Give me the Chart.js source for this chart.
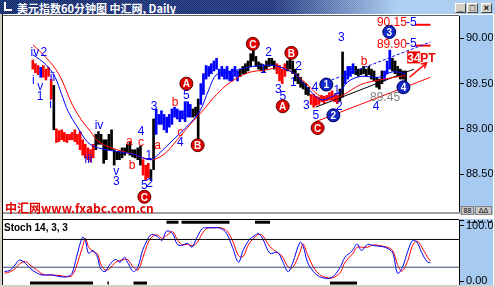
<!DOCTYPE html>
<html lang="zh-CN">
<head>
<meta charset="UTF-8" />
<title>美元指数60分钟图 中汇网, Daily</title>
<style>
  body {
    margin: 0;
    width: 495px;
    height: 287px;
    overflow: hidden;
    position: relative;
    background: #d4d0c8;
    font-family: Arial, "Liberation Sans", sans-serif;
  }
  #titulo {
    position: absolute; left: 0; top: 0; width: 495px; height: 14px;
    background:
      repeating-conic-gradient(rgba(255,255,255,.16) 0 25%, transparent 0 50%) 0 0 / 2px 2px,
      linear-gradient(90deg, #0a246a 0, #1a307a 55%, #a6caf0 80%, #a6caf0 100%);
  }
  #titulo span {
    position: absolute; left: 17px; top: 0; line-height: 14px;
    color: #fff; font: bold 11px "Noto Sans CJK SC", Arial, sans-serif;
  }
  #icone { position: absolute; left: 4px; top: 2px; width: 8px; height: 9px; border-left: 2px solid #fff; border-bottom: 2px solid #fff; box-sizing: border-box; }
  .btn {
    position: absolute; top: 3px; width: 11px; height: 10px; background: #d4d0c8;
    border: 1px solid; border-color: #fff #404040 #404040 #fff; box-sizing: border-box;
    font: bold 9px Arial; line-height: 8px; text-align: center; color: #000;
  }
  #painel { position: absolute; left: 2px; top: 14px; width: 491px; height: 271px; background: #fff; border-left: 1px solid #000; }
  #eixo1 { position: absolute; left: 459px; top: 15px; width: 34px; height: 197px; background: #a6caf0; }
  #eixo2 { position: absolute; left: 459px; top: 219px; width: 34px; height: 66px; background: #a6caf0; }
  #sep { position: absolute; left: 3px; top: 212px; width: 490px; height: 2px; background: #a0a0a0; }
  #topo2 { position: absolute; left: 3px; top: 219px; width: 456px; height: 1px; background: #000; }
  #topo1 { position: absolute; left: 3px; top: 15px; width: 456px; height: 1px; background: #606060; }
  canvas { position: absolute; }
  #grafico { left: 3px; top: 16px; }
  #graficoStoch { left: 3px; top: 220px; }
  #marca {
    position: absolute; left: 5px; top: 202px; color: #e00000;
    font: bold 12px "Noto Sans CJK SC", Arial, sans-serif; line-height: 12px;
  }
  #stochNome { position: absolute; left: 4px; top: 222px; font: bold 10px Arial, sans-serif; color: #000; }
  .mini { position: absolute; top: 206px; height: 9px; background: #c8c8c8; border: 1px solid #808080; box-sizing: border-box; font: 7px Arial; line-height: 7px; text-align: center; }
</style>
</head>
<body>
  <div id="titulo"><div id="icone"></div><span>美元指数60分钟图 中汇网, Daily</span></div>
  <div class="btn" style="left:455px">_</div>
  <div class="btn" style="left:467px">□</div>
  <div class="btn" style="left:481px">×</div>
  <div id="painel"></div>
  <div id="eixo1"></div>
  <div id="eixo2"></div>
  <div id="topo1"></div>
  <div id="sep"></div>
  <div id="topo2"></div>
  <canvas id="grafico" width="490" height="196"></canvas>
  <canvas id="graficoStoch" width="490" height="65"></canvas>
  <div id="marca">中汇网www.fxabc.com.cn</div>
  <div id="stochNome">Stoch 14, 3, 3</div>
  <div class="mini" style="left:461px;width:13px">88</div>
  <div class="mini" style="left:475px;width:17px">ΔΔ</div>

  <script src="https://cdn.jsdelivr.net/npm/chart.js"></script>
  <script>
    // ---- dados ----
    const NUM_SLOTS = 152;
    const maximas = [89.76,89.72,89.70,89.68,89.70,89.66,89.68,89.55,89.48,89.00,
      88.98,88.99,88.96,88.94,88.94,88.96,88.99,88.94,88.97,88.88,
      88.83,88.79,88.77,88.83,88.94,88.97,88.94,88.88,88.88,88.94,
      88.99,88.77,88.75,88.75,88.79,88.79,88.83,88.85,88.77,88.77,
      88.79,88.81,88.66,88.60,88.62,88.55,89.11,89.22,89.16,89.20,
      89.16,89.13,89.16,89.22,89.24,89.22,89.20,89.20,89.30,89.30,
      89.27,89.22,89.24,89.33,89.50,89.61,89.70,89.69,89.72,89.75,
      89.78,89.66,89.69,89.66,89.69,89.64,89.66,89.69,89.64,89.66,
      89.69,89.72,89.75,89.83,89.89,89.80,89.74,89.72,89.70,89.75,
      89.78,89.78,89.75,89.72,89.70,89.66,89.72,89.75,89.80,89.75,
      89.66,89.61,89.57,89.52,89.50,89.46,89.38,89.38,89.36,89.35,
      89.37,89.36,89.37,89.40,89.42,89.38,89.37,89.44,89.85,89.64,
      89.69,89.69,89.72,89.69,89.66,89.66,89.69,89.66,89.69,89.66,
      89.64,89.57,89.55,89.64,89.64,89.75,89.87,89.78,89.75,89.69,
      89.66,89.64,89.64];
    const minimas = [89.66,89.62,89.60,89.57,89.57,89.54,89.58,89.33,88.99,88.85,
      88.86,88.88,88.86,88.85,88.88,88.88,88.86,88.83,88.77,88.71,
      88.68,88.66,88.64,88.68,88.77,88.83,88.83,88.62,88.66,88.77,
      88.77,88.60,88.66,88.66,88.68,88.71,88.74,88.71,88.69,88.68,
      88.66,88.60,88.49,88.43,88.46,88.43,88.55,88.94,89.05,89.05,
      88.99,88.96,89.02,89.05,89.13,89.11,89.08,89.11,89.08,89.13,
      89.13,89.13,89.14,88.88,89.27,89.38,89.55,89.58,89.61,89.64,
      89.66,89.55,89.58,89.55,89.55,89.53,89.53,89.58,89.53,89.58,
      89.61,89.61,89.64,89.69,89.75,89.69,89.66,89.64,89.63,89.66,
      89.69,89.70,89.66,89.61,89.53,89.50,89.58,89.64,89.66,89.61,
      89.53,89.50,89.46,89.44,89.38,89.37,89.27,89.24,89.26,89.27,
      89.30,89.28,89.31,89.32,89.32,89.30,89.28,89.31,89.35,89.50,
      89.55,89.58,89.61,89.60,89.58,89.60,89.61,89.58,89.60,89.55,
      89.53,89.46,89.44,89.50,89.53,89.61,89.66,89.64,89.61,89.58,
      89.55,89.55,89.53];

    // médias móveis (índice da barra, preço)
    const mediaAzulX = [0,5,8.5,11,13.5,17,21,25,32,38.5,45,48.5,53.5,58.5,63.5,67,70,75,82,87,92,97,100,103.5,107,110,113.5,117,120,125,132,137,142];
    const mediaAzul = [89.82,89.71,89.57,89.38,89.19,89.02,88.85,88.79,88.75,88.72,88.66,88.74,88.88,89.02,89.19,89.43,89.60,89.63,89.68,89.70,89.70,89.65,89.60,89.49,89.38,89.32,89.35,89.41,89.52,89.58,89.57,89.63,89.61];
    const mediaVermX = [0,5,10,15,18.5,22,25,32,38.5,45,50,55,60,65,70,75,82,88.5,95,98.5,103.5,108.5,113.5,118.5,125,132,142];
    const mediaVerm = [89.93,89.79,89.60,89.27,89.10,88.97,88.86,88.77,88.72,88.66,88.72,88.88,89.05,89.21,89.38,89.51,89.62,89.65,89.68,89.63,89.52,89.38,89.32,89.38,89.49,89.54,89.59];

    // linhas de tendência (índice, preço)
    const canalAzul = [[112, 89.52], [151.5, 89.96]];
    const canalVerm = [[107.8, 89.08], [151.5, 89.57]];
    const canalPreto = [[107.8, 89.24], [145.2, 89.66]];
    const alvo1 = [[145.5, 90.15], [151.5, 90.15]];
    const alvo2 = [[145.5, 89.92], [151.5, 89.92]];
    const seta = [[143.5, 89.57], [150, 89.73]];
    const precoTicks = [88.5, 89.0, 89.5, 90.0];

    // estocástico
    const stochX = [0,2,3.5,5,7,8.5,11,12.5,14,16,18.5,21,22.5,24,26,27,28,29.5,31,32,33.5,35,37,38.5,40,41,43,44.5,46,47.5,49,51,52.5,54,56,57.5,59,61,62.5,64,66,67.5,69.5,72,74,76,78,79.5,81,82,83.5,84.5,86,88.5,91,92.5,94.5,96,98.5,99.5,101,103,105,107.5,109.5,112,113.5,116,117.5,119,121,123,126,128,129.5,131,132.5,134.5,136,137.5,139,141,142];
    const stochK = [17,20,29,38,32,23,14,11,11,11,8,8,14,43,79,73,50,55,43,23,17,29,39,34,43,34,17,26,55,73,84,80,73,90,86,67,64,68,61,77,95,96,96,95,86,61,34,55,70,77,82,86,77,50,52,38,17,32,70,64,34,17,8,5,8,26,43,55,67,55,66,64,62,58,50,14,23,55,73,70,52,34,34];
    const stochD = [14,17,22,31,35,29,19,13,11,11,10,8,10,27,62,77,62,53,49,32,20,22,34,37,39,39,25,20,40,64,79,83,77,82,89,76,66,66,64,68,86,95,96,96,91,73,46,44,62,71,79,84,82,62,51,45,26,24,52,67,48,25,12,6,6,16,34,49,61,61,61,65,63,60,54,30,18,38,64,72,62,43,36];
    const stochNiveis = [75, 25];
    const sobreCompra = [[54, 58], [59, 75], [83.5, 88.5]];
    const sobreVenda = [[8.5, 29.5], [34.3, 34.8], [43, 47.5], [108.5, 117.5]];

    // anotações de ondas: [texto, índice, preço, cor]
    const notas = [
      ['iv', 0.8, 89.84, 'b'], ['2', 4.2, 89.84, 'b'], ['i', 0.2, 89.53, 'b'], ['v', 2.8, 89.47, 'b'],
      ['1', 2.8, 89.36, 'b'], ['ii', 7.5, 89.57, 'b'], ['i', 6.8, 89.27, 'b'], ['iii', 21.2, 88.66, 'b'],
      ['iv', 25.2, 89.03, 'b'], ['v', 31.8, 88.53, 'b'], ['3', 31.8, 88.42, 'b'], ['a', 36.8, 88.86, 'r'],
      ['b', 37.8, 88.59, 'r'], ['4', 41.2, 88.97, 'b'], ['c', 41.2, 88.85, 'r'], ['1', 44.2, 88.70, 'b'],
      ['5', 42.5, 88.37, 'b'], ['2', 44.5, 88.39, 'b'], ['3', 46.2, 89.24, 'b'], ['a', 47.5, 88.81, 'r'],
      ['b', 54.2, 89.29, 'r'], ['c', 56.2, 88.96, 'r'], ['4', 56.2, 88.85, 'b'], ['5', 58.5, 89.37, 'b'],
      ['1', 87.8, 89.65, 'b'], ['2', 89.8, 89.84, 'b'], ['2', 101.2, 89.69, 'b'], ['1', 99.2, 89.51, 'b'],
      ['3', 93.5, 89.43, 'b'], ['5', 95.2, 89.36, 'b'], ['4', 107.5, 89.46, 'b'], ['3', 104.2, 89.26, 'b'],
      ['5', 107.8, 89.15, 'b'], ['1', 115.8, 89.42, 'b'], ['2', 116.8, 89.25, 'b'], ['3', 117.5, 90.01, 'b'],
      ['b', 126.2, 89.74, 'r'], ['4', 130.8, 89.25, 'b'], ['89.45', 134.2, 89.35, 'g'],
      ['90.15', 136.8, 90.17, 'r'], ['-5', 144.2, 90.17, 'b'], ['89.90', 136.8, 89.93, 'r'], ['-5', 144.2, 89.94, 'b']
    ];
    const circulos = [
      ['C', 42.5, 88.25, 'r'], ['A', 58.5, 89.50, 'r'], ['B', 62.8, 88.82, 'r'], ['C', 83.8, 89.94, 'r'],
      ['B', 98.5, 89.84, 'r'], ['A', 95.2, 89.25, 'r'], ['C', 108.5, 89.01, 'r'],
      ['1', 111.8, 89.49, 'b'], ['2', 114.5, 89.15, 'b'], ['3', 135.8, 90.07, 'b'], ['4', 141.2, 89.46, 'b']
    ];

    // ---- estilo ----
    const CORES = { b: '#0000ff', r: '#ff0000', k: '#000000', g: '#808080' };
    const trechosCor = [[0,'r'],[3,'b'],[4,'r'],[8,'k'],[9,'r'],[24,'k'],[42,'r'],[45,'k'],[47,'b'],[61,'k'],[64,'b'],[79,'k'],[93,'r'],[97,'k'],[106,'r'],[117,'k'],[119,'b'],[123,'k'],[134,'b'],[137,'k']];

    function corDaBarra(i) {
      let c = 'k';
      trechosCor.forEach(t => { if (i >= t[0]) c = t[1]; });
      return CORES[c];
    }

    function linha(pares, cor, largura, tracejado) {
      return {
        type: 'line',
        data: pares.map(p => ({ x: p[0], y: p[1] })),
        borderColor: cor, borderWidth: largura || 1, borderDash: tracejado || [],
        pointRadius: 0, tension: 0
      };
    }

    function serie(xs, ys, cor) {
      return {
        type: 'line',
        data: xs.map((x, i) => ({ x, y: ys[i] })),
        borderColor: cor, borderWidth: 1, pointRadius: 0, tension: 0.35
      };
    }

    const eixoX = { type: 'linear', min: -0.5, max: NUM_SLOTS - 0.5, display: false };

    function eixoDireito(min, max, valores, fmt) {
      return {
        position: 'right', min, max,
        afterBuildTicks: s => { s.ticks = valores.map(v => ({ value: v })); },
        afterFit: s => { s.width = 34; s.paddingTop = 0; s.paddingBottom = 0; },
        grid: { drawOnChartArea: false, drawTicks: true, tickLength: 5, color: '#000' },
        border: { display: true, color: '#000', dash: [1, 2] },
        ticks: { autoSkip: false, padding: 2, color: '#000', font: { family: 'Arial', size: 11 }, callback: fmt }
      };
    }

    const fundoBranco = {
      id: 'fundoBranco',
      beforeDraw(chart) {
        const a = chart.chartArea, ctx = chart.ctx;
        ctx.save();
        ctx.fillStyle = '#fff';
        ctx.fillRect(a.left, a.top, a.right - a.left, a.bottom - a.top);
        ctx.restore();
      }
    };

    const anotacoes = {
      id: 'anotacoes',
      afterDatasetsDraw(chart) {
        const ctx = chart.ctx, sx = chart.scales.x, sy = chart.scales.y;
        ctx.save();
        ctx.textAlign = 'center';
        ctx.textBaseline = 'middle';

        // ponta da seta
        const p0 = seta[0], p1 = seta[1];
        const x0 = sx.getPixelForValue(p0[0]), y0 = sy.getPixelForValue(p0[1]);
        const x1 = sx.getPixelForValue(p1[0]), y1 = sy.getPixelForValue(p1[1]);
        const ang = Math.atan2(y1 - y0, x1 - x0);
        ctx.strokeStyle = '#ff0000';
        ctx.lineWidth = 1.5;
        ctx.beginPath();
        ctx.moveTo(x1 - 6 * Math.cos(ang - 0.5), y1 - 6 * Math.sin(ang - 0.5));
        ctx.lineTo(x1, y1);
        ctx.lineTo(x1 - 6 * Math.cos(ang + 0.5), y1 - 6 * Math.sin(ang + 0.5));
        ctx.stroke();

        ctx.font = '12px Arial';
        notas.forEach(n => {
          ctx.fillStyle = CORES[n[3]];
          ctx.fillText(n[0], sx.getPixelForValue(n[1]), sy.getPixelForValue(n[2]));
        });

        // rótulo 34PT
        const px = sx.getPixelForValue(147.2), py = sy.getPixelForValue(89.79);
        ctx.fillStyle = '#ee0000';
        ctx.fillRect(px - 12, py - 6, 13, 12);
        ctx.font = 'bold 12px Arial';
        ctx.textAlign = 'left';
        ctx.fillStyle = '#fff';
        ctx.fillText('34', px - 12, py + 1);
        ctx.fillStyle = '#ee0000';
        ctx.fillText('PT', px + 1, py + 1);
        ctx.textAlign = 'center';

        circulos.forEach(c => {
          const cx = sx.getPixelForValue(c[1]), cy = sy.getPixelForValue(c[2]);
          ctx.beginPath();
          ctx.arc(cx, cy, 6.5, 0, Math.PI * 2);
          ctx.fillStyle = c[3] === 'r' ? '#e00000' : '#1428c8';
          ctx.fill();
          ctx.lineWidth = 1;
          ctx.strokeStyle = c[3] === 'r' ? '#600000' : '#000050';
          ctx.stroke();
          ctx.fillStyle = '#fff';
          ctx.font = 'bold 10px Arial';
          ctx.fillText(c[0], cx, cy + 1);
        });
        ctx.restore();
      }
    };

    // ---- gráfico de preços ----
    const barras = {
      type: 'bar',
      data: maximas.map((h, i) => ({ x: i, y: [minimas[i], h] })),
      backgroundColor: maximas.map((h, i) => corDaBarra(i)),
      barThickness: 2,
      order: 5
    };

    new Chart(document.getElementById('grafico'), {
      type: 'bar',
      data: {
        datasets: [
          barras,
          serie(mediaAzulX, mediaAzul, '#0000ff'),
          serie(mediaVermX, mediaVerm, '#ff0000'),
          linha(canalAzul, '#0000ff', 1, [3, 2]),
          linha(canalVerm, '#ff0000', 1),
          linha(canalPreto, '#000000', 1),
          linha(alvo1, '#ff0000', 2),
          linha(alvo2, '#ff0000', 2),
          linha(seta, '#ff0000', 1.5)
        ]
      },
      options: {
        responsive: false,
        animation: false,
        events: [],
        layout: { padding: 0 },
        plugins: { legend: { display: false }, tooltip: { enabled: false } },
        scales: {
          x: eixoX,
          y: eixoDireito(88.082, 90.247, precoTicks, v => v.toFixed(2))
        }
      },
      plugins: [fundoBranco, anotacoes]
    });

    // ---- estocástico ----
    const faixas = [];
    sobreCompra.forEach(f => faixas.push(linha([[f[0], 106], [f[1], 106]], '#000', 3)));
    sobreVenda.forEach(f => faixas.push(linha([[f[0], -3.5], [f[1], -3.5]], '#000', 3)));

    new Chart(document.getElementById('graficoStoch'), {
      type: 'line',
      data: {
        datasets: [
          linha([[-0.5, stochNiveis[0]], [NUM_SLOTS - 0.5, stochNiveis[0]]], '#000000', 1),
          linha([[-0.5, stochNiveis[1]], [NUM_SLOTS - 0.5, stochNiveis[1]]], '#3c4a78', 1),
          serie(stochX, stochK, '#0000ff'),
          serie(stochX, stochD, '#ff0000'),
          ...faixas
        ]
      },
      options: {
        responsive: false,
        animation: false,
        events: [],
        layout: { padding: 0 },
        plugins: { legend: { display: false }, tooltip: { enabled: false } },
        scales: {
          x: eixoX,
          y: eixoDireito(-7, 110, [110, 100, 0], v => v.toFixed(2))
        }
      },
      plugins: [fundoBranco]
    });
  </script>
</body>
</html>
